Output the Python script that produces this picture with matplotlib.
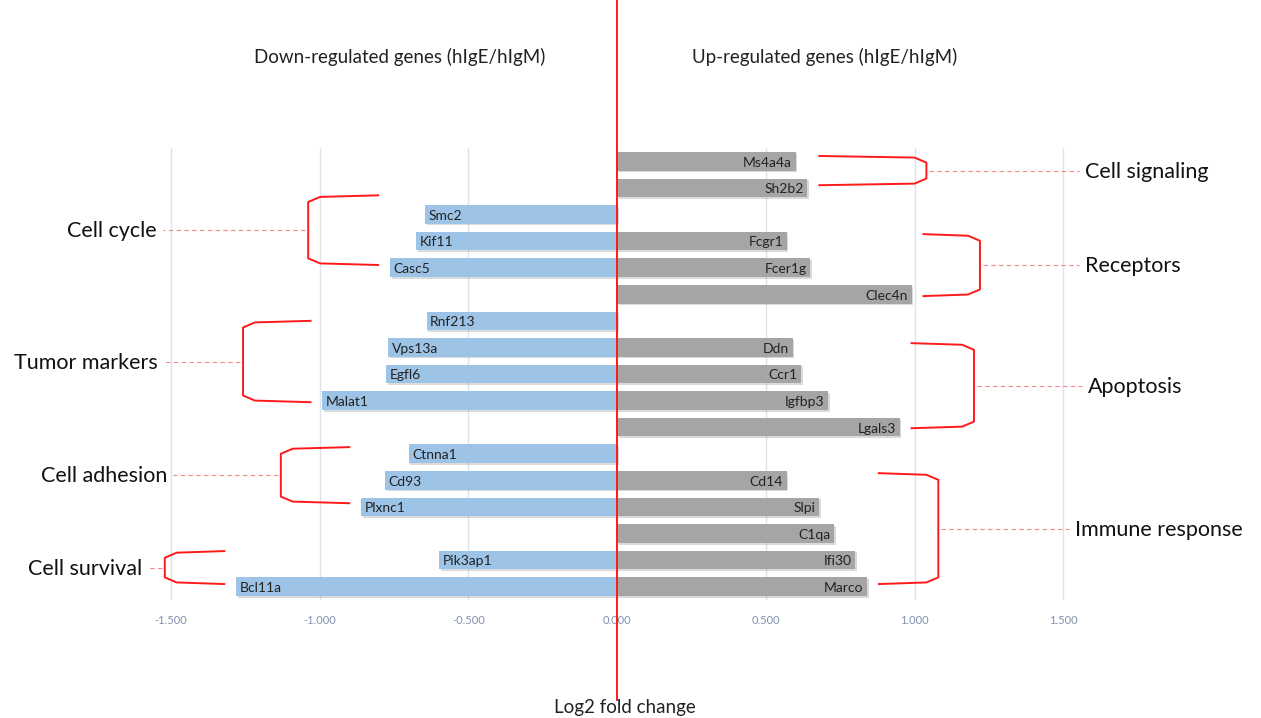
import numpy as np
import matplotlib
matplotlib.use("Agg")
from matplotlib import pyplot as plt
from matplotlib import patheffects as pe
from matplotlib.transforms import blended_transform_factory

plt.rcParams['font.family'] = ['Lato', 'DejaVu Sans']

# one row per line of the chart, top to bottom (blank = no bar on that side)
down_genes = ["", "", "Smc2", "Kif11", "Casc5", "", "Rnf213", "Vps13a", "Egfl6", "Malat1",
              "", "Ctnna1", "Cd93", "Plxnc1", "", "Pik3ap1", "Bcl11a"]
down_values = [np.nan, np.nan, -0.645, -0.676, -0.763, np.nan, -0.640, -0.770, -0.776, -0.990,
               np.nan, -0.700, -0.780, -0.860, np.nan, -0.598, -1.280]
up_genes = ["Ms4a4a", "Sh2b2", "", "Fcgr1", "Fcer1g", "Clec4n", "", "Ddn", "Ccr1", "Igfbp3",
            "Lgals3", "", "Cd14", "Slpi", "C1qa", "Ifi30", "Marco"]
up_values = [0.600, 0.640, np.nan, 0.570, 0.650, 0.990, np.nan, 0.590, 0.620, 0.710,
             0.950, np.nan, 0.570, 0.680, 0.730, 0.800, 0.840]

x_ticks = [-1.5, -1.0, -0.5, 0.0, 0.5, 1.0, 1.5]

left_groups = ["Cell cycle", "Tumor markers", "Cell adhesion", "Cell survival"]
left_members = [["Smc2", "Kif11", "Casc5"],
                ["Rnf213", "Vps13a", "Egfl6", "Malat1"],
                ["Ctnna1", "Cd93", "Plxnc1"],
                ["Pik3ap1", "Bcl11a"]]
right_groups = ["Cell signaling", "Receptors", "Apoptosis", "Immune response"]
right_members = [["Ms4a4a", "Sh2b2"],
                 ["Fcgr1", "Fcer1g", "Clec4n"],
                 ["Ddn", "Ccr1", "Igfbp3", "Lgals3"],
                 ["Cd14", "Slpi", "C1qa", "Ifi30", "Marco"]]

# bracket layout: depth, overhang above first / below last row, label x
left_depth = [0.235, 0.227, 0.23, 0.20]
left_over = [(0.72, -0.1), (0.0, 0.06), (0.25, -0.14), (0.34, -0.1)]
left_label_x = [-1.546, -1.543, -1.513, -1.597]
right_depth = [0.36, 0.19, 0.21, 0.20]
right_over = [(0.2, -0.1), (0.26, 0.07), (0.16, 0.04), (0.27, -0.1)]
right_label_x = [1.573, 1.573, 1.583, 1.54]

BLUE = "#9dc3e6"
GRAY = "#a5a5a5"
RED = "#ff1a1a"

fig = plt.figure(figsize=(12.61, 7.18), dpi=100)
ax = fig.add_axes([0, 118 / 718, 1, 452 / 718])
ax.set_xlim(-617 / 297.5, (1261 - 617) / 297.5)
ax.set_ylim(16.5, -0.5)

rows = np.arange(len(down_genes))
shadow = [pe.SimplePatchShadow(offset=(1.2, -1.2), alpha=0.18), pe.Normal()]
bars_d = ax.barh(rows, down_values, height=0.7, color=BLUE, zorder=2)
bars_u = ax.barh(rows, up_values, height=0.7, color=GRAY, zorder=2)
for b in list(bars_d) + list(bars_u):
    b.set_path_effects(shadow)

for r, g, v in zip(rows, down_genes, down_values):
    if g:
        ax.text(v + 0.012, r + 0.05, g, ha="left", va="center", fontsize=10, color="#222222", zorder=3)
for r, g, v in zip(rows, up_genes, up_values):
    if g:
        ax.text(v - 0.012, r + 0.05, g, ha="right", va="center", fontsize=10, color="#222222", zorder=3)

# axis styling
for s in ax.spines.values():
    s.set_visible(False)
ax.set_yticks([])
ax.set_xticks(x_ticks)
ax.set_xticklabels([f"{t:.3f}" for t in x_ticks], fontsize=8, color="#8091ad")
ax.tick_params(axis="x", length=0, pad=11)
ax.grid(axis="x", color="#dde3ec", linewidth=1, zorder=0)
ax.set_axisbelow(True)

# red zero line across the whole figure height
tr = blended_transform_factory(ax.transData, fig.transFigure)
ax.plot([0, 0], [1, 18 / 718], color=RED, lw=1.4, transform=tr, clip_on=False, zorder=4)


def bracket(members, genes, values, depth, over, label, lx, side):
    idx = [genes.index(m) for m in members]
    top = min(idx) - over[0]
    bot = max(idx) + over[1]
    ext = min(values[i] for i in idx) if side < 0 else max(values[i] for i in idx)
    tip = ext + side * 0.04
    spine = tip + side * depth
    c = side * 0.02
    xs = [tip, spine - c * 2, spine, spine, spine, spine - c * 2, tip]
    ys = [top, top + 0.06, top + 0.25, (top + bot) / 2, bot - 0.25, bot - 0.06, bot]
    ax.plot(xs, ys, color=RED, lw=1.4, zorder=3, solid_joinstyle="round")
    mid = (top + bot) / 2
    ax.plot([spine + side * 0.01, lx - side * 0.02], [mid, mid], color="#f08a8a",
            lw=0.8, ls=(0, (4, 3)), zorder=3)
    ax.text(lx, mid + 0.05, label, ha="right" if side < 0 else "left", va="center",
            fontsize=15.5, color="#111111")


for name, mem, d, o, lx in zip(left_groups, left_members, left_depth, left_over, left_label_x):
    bracket(mem, down_genes, down_values, d, o, name, lx, -1)
for name, mem, d, o, lx in zip(right_groups, right_members, right_depth, right_over, right_label_x):
    bracket(mem, up_genes, up_values, d, o, name, lx, 1)

fig.text(400 / 1261, 1 - 57 / 718, "Down-regulated genes (hIgE/hIgM)", ha="center", va="center",
         fontsize=13.5, color="#222222")
fig.text(825 / 1261, 1 - 57 / 718, "Up-regulated genes (hIgE/hIgM)", ha="center", va="center",
         fontsize=13.5, color="#222222")
fig.text(625 / 1261, 1 - 708 / 718, "Log2 fold change", ha="center", va="center",
         fontsize=13.5, color="#222222")

fig.savefig("out.png", dpi=100)
plt.close(fig)
